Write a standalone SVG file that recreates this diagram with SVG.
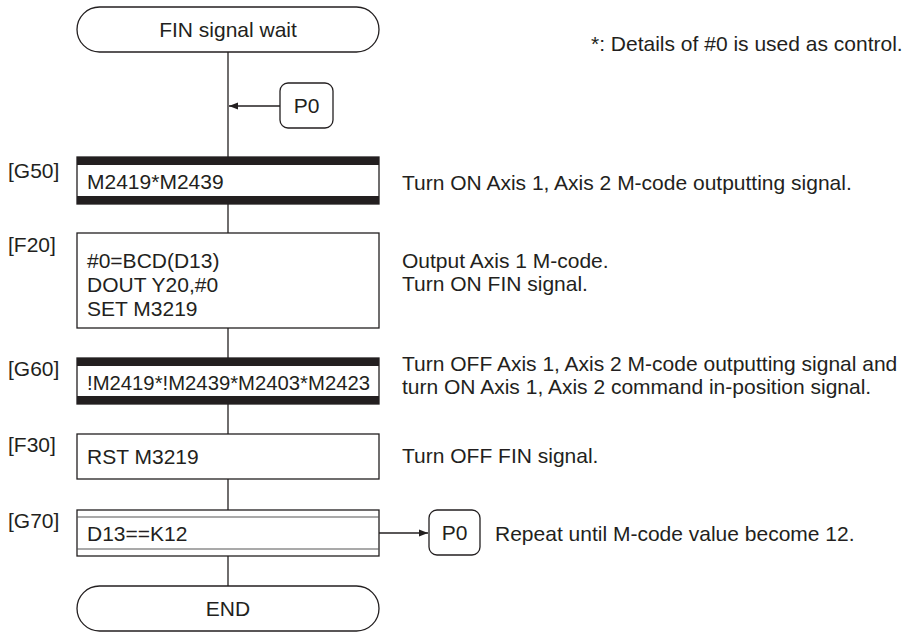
<svg xmlns="http://www.w3.org/2000/svg" width="915" height="633" viewBox="0 0 915 633">
<defs>
<style>
text{font-family:"Liberation Sans",Arial,sans-serif;font-size:21px;fill:#231f20}
.c{text-anchor:middle}
.b{fill:#fff;stroke:#231f20;stroke-width:1.3}
.l{fill:none;stroke:#231f20;stroke-width:1.3}
.bar{fill:#231f20}
.g{fill:none;stroke:#555;stroke-width:1.2}
</style>
<marker id="ah" viewBox="0 0 10 10" refX="10" refY="5" markerWidth="9" markerHeight="9" markerUnits="userSpaceOnUse" orient="auto">
<path d="M0,1 L10,5 L0,9 Z" fill="#231f20"/>
</marker>
</defs>
<g id="connectors">
<line class="l" x1="228" y1="52" x2="228" y2="157"/>
<line class="l" x1="280" y1="106" x2="229" y2="106" marker-end="url(#ah)"/>
<line class="l" x1="228" y1="204" x2="228" y2="233"/>
<line class="l" x1="228" y1="328" x2="228" y2="358"/>
<line class="l" x1="228" y1="404" x2="228" y2="434"/>
<line class="l" x1="228" y1="479" x2="228" y2="510"/>
<line class="l" x1="228" y1="556" x2="228" y2="586"/>
<line class="l" x1="379" y1="533" x2="428" y2="533" marker-end="url(#ah)"/>
</g>
<g id="start">
<rect class="b" x="77" y="7" width="302" height="45" rx="22.5"/>
<text class="c" x="228" y="37">FIN signal wait</text>
</g>
<g id="note"><text x="591" y="51">*: Details of #0 is used as control.</text></g>
<g id="p0-in">
<rect class="b" x="280" y="83" width="53" height="45" rx="8"/>
<text class="c" x="306.5" y="113">P0</text>
</g>
<g id="G50">
<text x="8" y="178">[G50]</text>
<rect class="b" x="77" y="157" width="302" height="47"/>
<rect class="bar" x="77" y="157" width="302" height="8"/>
<rect class="bar" x="77" y="196" width="302" height="8"/>
<text x="87" y="189">M2419*M2439</text>
<text x="402" y="190">Turn ON Axis 1, Axis 2 M-code outputting signal.</text>
</g>
<g id="F20">
<text x="8" y="252">[F20]</text>
<rect class="b" x="77" y="233" width="302" height="95"/>
<text x="87" y="268">#0=BCD(D13)</text>
<text x="87" y="292">DOUT Y20,#0</text>
<text x="87" y="316">SET M3219</text>
<text x="402" y="268">Output Axis 1 M-code.</text>
<text x="402" y="291">Turn ON FIN signal.</text>
</g>
<g id="G60">
<text x="8" y="376">[G60]</text>
<rect class="b" x="77" y="358" width="302" height="46"/>
<rect class="bar" x="77" y="358" width="302" height="8"/>
<rect class="bar" x="77" y="396" width="302" height="8"/>
<text x="87" y="390" textLength="283" lengthAdjust="spacingAndGlyphs">!M2419*!M2439*M2403*M2423</text>
<text x="402" y="371">Turn OFF Axis 1, Axis 2 M-code outputting signal and</text>
<text x="402" y="394">turn ON Axis 1, Axis 2 command in-position signal.</text>
</g>
<g id="F30">
<text x="8" y="452">[F30]</text>
<rect class="b" x="77" y="434" width="302" height="45"/>
<text x="87" y="464">RST M3219</text>
<text x="402" y="463">Turn OFF FIN signal.</text>
</g>
<g id="G70">
<text x="8" y="528">[G70]</text>
<rect class="b" x="77" y="510" width="302" height="46"/>
<line class="g" x1="77" y1="517" x2="379" y2="517"/>
<line class="g" x1="77" y1="549" x2="379" y2="549"/>
<text x="87" y="541">D13==K12</text>
</g>
<g id="p0-out">
<rect class="b" x="429" y="510" width="51" height="45" rx="8"/>
<text class="c" x="454.5" y="540">P0</text>
<text x="495" y="541">Repeat until M-code value become 12.</text>
</g>
<g id="end">
<rect class="b" x="77" y="586" width="302" height="45" rx="22.5"/>
<text class="c" x="228" y="616">END</text>
</g>
</svg>
